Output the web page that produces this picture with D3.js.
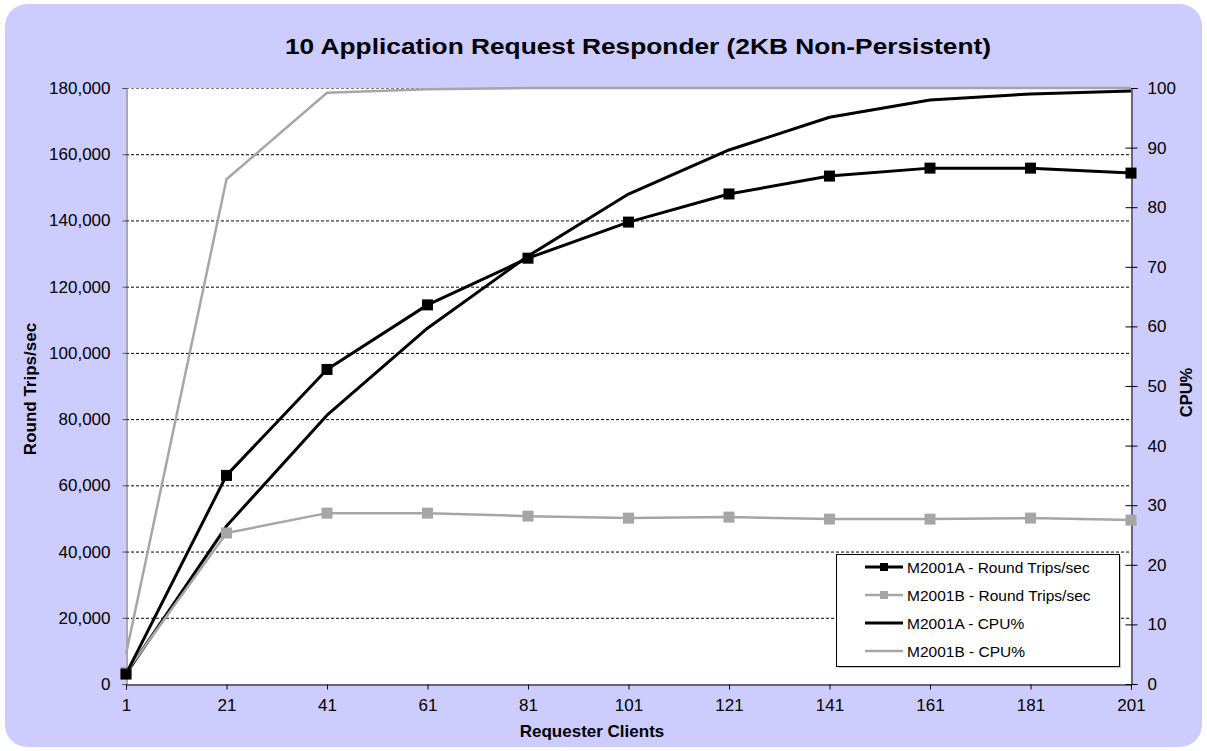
<!DOCTYPE html>
<html>
<head>
<meta charset="utf-8">
<script src="https://cdn.jsdelivr.net/npm/d3@7"></script>
<style>
  html, body { margin: 0; padding: 0; background: #ffffff; }
  svg { display: block; font-family: "Liberation Sans", Arial, sans-serif; }
</style>
</head>
<body>
<svg id="chart" width="1207" height="751"></svg>
<script>
const clients = [1, 21, 41, 61, 81, 101, 121, 141, 161, 181, 201];
const aRoundTrips = [3000, 63000, 95000, 114500, 128600, 139500, 148000, 153400, 155800, 155800, 154300];
const bRoundTrips = [3500, 45600, 51600, 51600, 50700, 50100, 50400, 49800, 49800, 50100, 49500];
const aCpu = [1.7, 26.5, 45.1, 59.7, 71.8, 82.2, 89.6, 95.1, 98.0, 99.0, 99.5];
const bCpu = [5, 84.7, 99.2, 99.8, 100, 100, 100, 100, 100, 100, 100];
const leftTicks = [0, 20000, 40000, 60000, 80000, 100000, 120000, 140000, 160000, 180000];
const rightTicks = [0, 10, 20, 30, 40, 50, 60, 70, 80, 90, 100];
const legendLabels = ["M2001A - Round Trips/sec", "M2001B - Round Trips/sec", "M2001A - CPU%", "M2001B - CPU%"];

const svg = d3.select("#chart");
const W = 1207, H = 751;
const m = { left: 126, right: 1131, top: 88, bottom: 684 };
const FONT = "Liberation Sans, Arial, sans-serif";

// background
svg.append("rect").attr("x", 5).attr("y", 4).attr("width", W - 10).attr("height", H - 8)
  .attr("rx", 22).attr("ry", 22).attr("fill", "#ccccff");
svg.append("rect").attr("x", m.left).attr("y", m.top)
  .attr("width", m.right - m.left).attr("height", m.bottom - m.top).attr("fill", "#ffffff");

const x = d3.scaleLinear().domain([1, 201]).range([m.left, m.right]);
const yL = d3.scaleLinear().domain([0, 180000]).range([m.bottom, m.top]);
const yR = d3.scaleLinear().domain([0, 100]).range([m.bottom, m.top]);

// gridlines
svg.append("g").selectAll("line").data(leftTicks.filter(d => d > 0)).join("line")
  .attr("x1", m.left).attr("x2", m.right)
  .attr("y1", d => yL(d) + 0.5).attr("y2", d => yL(d) + 0.5)
  .attr("stroke", d => d === 180000 ? "#808080" : "#000000").attr("stroke-width", 1)
  .attr("stroke-dasharray", "3,2");

// left axis
const fmt = d3.format(",");
const gL = svg.append("g").attr("transform", `translate(${m.left + 0.5},0)`)
  .call(d3.axisLeft(yL).tickValues(leftTicks).tickFormat(fmt).tickSize(4).tickPadding(12));
gL.select(".domain").attr("stroke", "#555555");
gL.selectAll(".tick line").attr("stroke", "#555555");
gL.selectAll("text").attr("font-size", 17).attr("fill", "#000").attr("font-family", FONT);

// right axis
const gR = svg.append("g").attr("transform", `translate(${m.right + 0.5},0)`)
  .call(d3.axisRight(yR).tickValues(rightTicks).tickSize(6).tickPadding(10));
gR.select(".domain").attr("stroke", "#000");
gR.selectAll(".tick line").attr("x1", -6).attr("stroke", "#000");
gR.selectAll("text").attr("font-size", 17).attr("fill", "#000").attr("font-family", FONT);

// bottom axis
const gB = svg.append("g").attr("transform", `translate(0,${m.bottom + 0.5})`)
  .call(d3.axisBottom(x).tickValues(clients).tickFormat(d3.format("d")).tickSize(5).tickPadding(9));
gB.select(".domain").attr("stroke", "#000");
gB.selectAll(".tick line").attr("stroke", "#000");
gB.selectAll("text").attr("font-size", 17).attr("fill", "#000").attr("font-family", FONT);

// lines
const lineL = d3.line().x((d, i) => x(clients[i])).y(d => yL(d));
const lineR = d3.line().x((d, i) => x(clients[i])).y(d => yR(d));
const gray = "#a6a6a6";

svg.append("path").datum(bCpu).attr("d", lineR).attr("fill", "none")
  .attr("stroke", gray).attr("stroke-width", 2.5).attr("stroke-linejoin", "round");
svg.append("path").datum(aCpu).attr("d", lineR).attr("fill", "none")
  .attr("stroke", "#000").attr("stroke-width", 3).attr("stroke-linejoin", "round");
svg.append("path").datum(bRoundTrips).attr("d", lineL).attr("fill", "none")
  .attr("stroke", gray).attr("stroke-width", 2.5).attr("stroke-linejoin", "round");
svg.append("g").selectAll("rect").data(bRoundTrips).join("rect")
  .attr("x", (d, i) => x(clients[i]) - 5.5).attr("y", d => yL(d) - 5.5)
  .attr("width", 11).attr("height", 11).attr("fill", gray);
svg.append("path").datum(aRoundTrips).attr("d", lineL).attr("fill", "none")
  .attr("stroke", "#000").attr("stroke-width", 3).attr("stroke-linejoin", "round");
svg.append("g").selectAll("rect").data(aRoundTrips).join("rect")
  .attr("x", (d, i) => x(clients[i]) - 5.5).attr("y", d => yL(d) - 5.5)
  .attr("width", 11).attr("height", 11).attr("fill", "#000");

// title
svg.append("text").attr("x", 285).attr("y", 54)
  .attr("font-size", 22).attr("font-weight", "bold")
  .attr("textLength", 706).attr("lengthAdjust", "spacingAndGlyphs")
  .text("10 Application Request Responder (2KB Non-Persistent)");

// axis titles
svg.append("text").attr("x", 592).attr("y", 737)
  .attr("text-anchor", "middle").attr("font-size", 17).attr("font-weight", "bold")
  .text("Requester Clients");
svg.append("text").attr("transform", `translate(35.5,389) rotate(-90)`)
  .attr("text-anchor", "middle").attr("font-size", 17).attr("font-weight", "bold")
  .text("Round Trips/sec");
svg.append("text").attr("transform", `translate(1192,392.5) rotate(-90)`)
  .attr("text-anchor", "middle").attr("font-size", 16.5).attr("font-weight", "bold")
  .text("CPU%");

// legend
const lg = svg.append("g");
lg.append("rect").attr("x", 838).attr("y", 556).attr("width", 283).attr("height", 112).attr("fill", "#c8c8c8");
lg.append("rect").attr("x", 836.5).attr("y", 554.5).attr("width", 283).attr("height", 112)
  .attr("fill", "#fff").attr("stroke", "#000").attr("stroke-width", 1);
const legStyles = [
  { c: "#000", w: 3, mk: true },
  { c: gray, w: 2.5, mk: true },
  { c: "#000", w: 3, mk: false },
  { c: gray, w: 2.5, mk: false }
];
const rowsY = [567, 595, 623, 651];
legendLabels.forEach((lab, i) => {
  const s = legStyles[i];
  lg.append("line").attr("x1", 865).attr("x2", 903).attr("y1", rowsY[i]).attr("y2", rowsY[i])
    .attr("stroke", s.c).attr("stroke-width", s.w);
  if (s.mk) lg.append("rect").attr("x", 880).attr("y", rowsY[i] - 4).attr("width", 8).attr("height", 8).attr("fill", s.c);
  lg.append("text").attr("x", 907).attr("y", rowsY[i] + 5.5).attr("font-size", 15.5).text(lab);
});
</script>
</body>
</html>
